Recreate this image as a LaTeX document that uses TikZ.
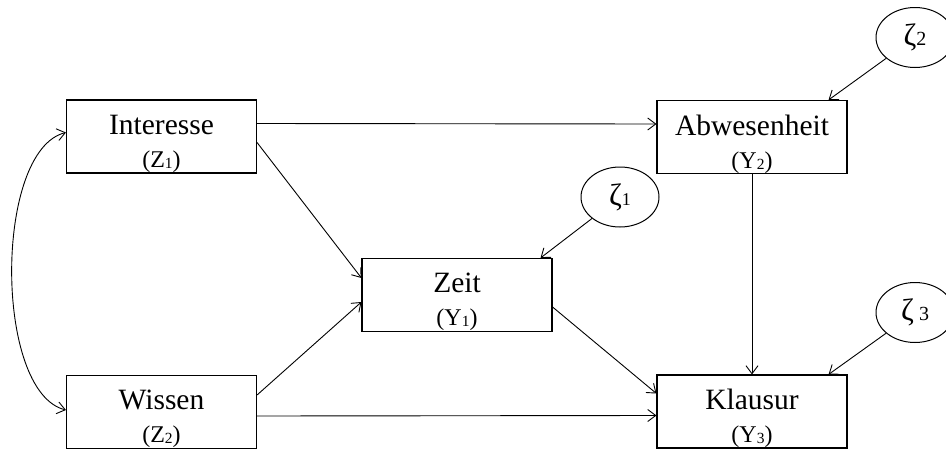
\documentclass[tikz,border=0pt]{standalone}
\usepackage{fontspec}
\setmainfont{Liberation Serif}
\usetikzlibrary{arrows.meta,shapes.geometric}

\newcommand{\idx}[1]{\raisebox{-1pt}{\fontsize{15.5}{15.5}\selectfont #1}}
\newcommand{\zweit}{\fontsize{24}{33}\selectfont}

\begin{document}
\begin{tikzpicture}[x=1pt,y=-1pt,
  var/.style={draw,line width=1.1pt,minimum width=190pt,minimum height=73pt,inner sep=0pt},
  lbl/.style={align=center,yshift=-7pt,font=\fontsize{29.5}{33}\selectfont},
  err/.style={draw,ellipse,line width=1pt,minimum width=78pt,minimum height=60pt,inner sep=0pt,font=\fontsize{31}{31}\selectfont},
  pfeil/.style={line width=0.9pt,-{Straight Barb[length=8pt,width=12pt]}}]

\useasboundingbox (0,0) rectangle (946,450);

% Variablen
\node[var,label={[lbl]center:Interesse\\\zweit (Z\idx{1})}] (int) at (161.5,136.5) {};
\node[var,label={[lbl]center:Wissen\\\zweit (Z\idx{2})}] (wis) at (161.5,412) {};
\node[var,label={[lbl]center:Zeit\\\zweit (Y\idx{1})}] (zeit) at (457,295) {};
\node[var,label={[lbl]center:Abwesenheit\\\zweit (Y\idx{2})}] (abw) at (752,137) {};
\node[var,label={[lbl]center:Klausur\\\zweit (Y\idx{3})}] (kla) at (752,411.5) {};

% Residuen
\node[err] (z1) at (620,197) {ζ{\fontsize{18}{18}\selectfont 1}};
\node[err] (z2) at (915,37.5) {ζ{\fontsize{20}{20}\selectfont 2}};
\node[err] (z3) at (915,312.5) {ζ\,{\fontsize{20}{20}\selectfont 3}};

% Pfade
\draw[pfeil] ([yshift=13pt]int.east) -- ([yshift=13pt]abw.west);
\draw[pfeil] ([yshift=-6pt]int.east) -- ([yshift=17pt]zeit.west);
\draw[pfeil] ([yshift=17pt]wis.east) -- ([yshift=-7pt]zeit.west);
\draw[pfeil] ([yshift=-4pt]wis.east) -- ([yshift=-4pt]kla.west);
\draw[pfeil] ([yshift=-12pt]zeit.east) -- ([yshift=18pt]kla.west);
\draw[pfeil] (abw.south) -- (kla.north);

\draw[pfeil] (z1) -- ([xshift=-12pt]zeit.north east);
\draw[pfeil] (z2) -- ([xshift=-19pt]abw.north east);
\draw[pfeil] (z3) -- ([xshift=-19pt]kla.north east);

% Korrelation
\draw[line width=0.9pt,{Straight Barb[length=8pt,width=12pt]}-{Straight Barb[length=8pt,width=12pt]}]
  ([yshift=4pt]int.west) .. controls +(-72,18) and +(-72,-18) .. ([yshift=2pt]wis.west);

\end{tikzpicture}
\end{document}
